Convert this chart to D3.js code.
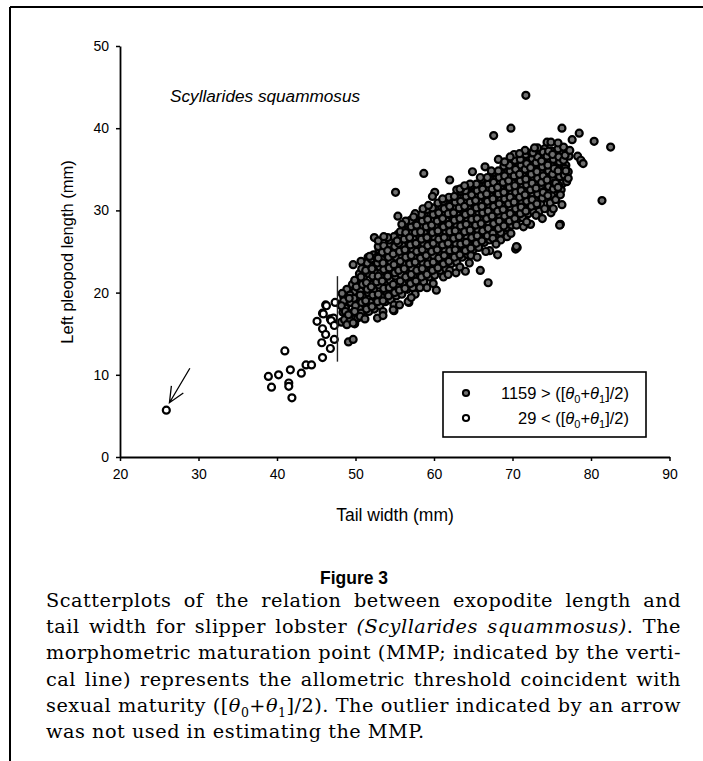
<!DOCTYPE html>
<html><head><meta charset="utf-8">
<script src="https://cdn.jsdelivr.net/npm/d3@7"></script>
<style>
html,body{margin:0;padding:0;background:#fff;}
svg{display:block;}
</style></head>
<body>
<svg id="chart" width="703" height="761"></svg>
<script>
// ---------- data ----------
const xTicks = [20, 30, 40, 50, 60, 70, 80, 90];
const yTicks = [0, 10, 20, 30, 40, 50];
const speciesName = "Scyllarides squammosus";
const xTitle = "Tail width (mm)";
const yTitle = "Left pleopod length (mm)";
const legendCounts = [1159, 29];
const legendSigns = [">", "<"];
const mmpTailWidth = 47.7;
const mmpLineSpan = [11.6, 22.0];
const arrowFrom = [28.9, 10.8];
const arrowTo = [26.3, 6.6];

// immature (below MMP) tail width / pleopod length
const immature = [
[25.9,5.7],[38.9,9.8],[39.3,8.5],[40.2,10.0],[41.0,12.9],[41.7,10.6],[41.5,9.0],[41.5,8.6],
[41.9,7.2],[43.1,10.2],[43.7,11.2],[44.4,11.2],[45.1,16.5],[45.7,13.9],[45.8,15.6],[46.2,14.9],
[45.8,17.5],[46.2,18.5],[45.8,12.1],[46.8,13.2],[46.8,16.8],[47.3,14.3],[47.3,16.2],[47.4,18.8],
[47.2,16.9],[46.9,16.6],[47.3,16.0],[45.9,17.4],[46.3,18.4]
];

// mature (above MMP) — dense core of the cloud
const matureCore = [
[48.2,16.4],[48.4,17.6],[48.1,18.5],[48.5,19.5],
[48.9,16.2],[49.0,17.0],[48.8,18.4],[49.2,19.1],[48.9,20.4],
[49.6,16.8],[49.8,17.7],[49.5,19.0],[49.9,20.1],[49.6,21.0],
[50.3,16.9],[50.5,18.1],[50.2,19.4],[50.6,20.2],[50.3,21.6],[50.5,22.3],
[51.0,17.3],[51.2,18.6],[50.9,19.6],[51.3,20.8],[51.0,21.8],[51.2,23.0],
[51.7,17.7],[51.9,18.8],[51.6,20.0],[52.0,21.0],[51.7,22.3],[51.9,23.2],[51.6,24.3],
[52.4,18.0],[52.6,19.3],[52.3,20.3],[52.7,21.6],[52.4,22.5],[52.6,23.8],[52.3,24.6],
[53.1,18.4],[53.3,19.5],[53.0,20.9],[53.4,21.8],[53.1,23.1],[53.3,24.1],[53.0,25.2],
[53.8,18.9],[54.0,20.0],[53.7,21.3],[54.1,22.2],[53.8,23.5],[54.0,24.6],[53.7,25.5],
[54.5,19.1],[54.7,20.5],[54.4,21.5],[54.8,22.8],[54.5,23.7],[54.7,25.0],[54.4,25.9],
[55.2,19.6],[55.4,20.6],[55.1,22.0],[55.5,23.0],[55.2,24.3],[55.4,25.2],[55.1,26.5],[55.4,27.1],
[55.9,19.8],[56.1,21.2],[55.8,22.2],[56.2,23.5],[55.9,24.5],[56.1,25.7],[55.8,26.6],[56.1,27.7],
[56.6,20.4],[56.8,21.4],[56.5,22.8],[56.9,23.7],[56.6,25.0],[56.8,25.9],[56.5,27.2],[56.8,27.9],
[57.3,20.6],[57.5,21.9],[57.2,22.9],[57.6,24.2],[57.3,25.2],[57.5,26.5],[57.2,27.4],[57.5,28.6],
[58.0,21.1],[58.2,22.1],[57.9,23.5],[58.3,24.4],[58.0,25.8],[58.2,26.7],[57.9,28.0],[58.2,28.8],
[58.7,21.3],[58.9,22.7],[58.6,23.6],[59.0,25.0],[58.7,25.9],[58.9,27.2],[58.6,28.1],[58.9,29.3],
[59.4,21.9],[59.6,22.9],[59.3,24.2],[59.7,25.1],[59.4,26.5],[59.6,27.4],[59.3,28.7],[59.6,29.5],
[60.1,22.1],[60.3,23.4],[60.0,24.4],[60.4,25.7],[60.1,26.6],[60.3,28.0],[60.0,28.9],[60.3,30.1],
[60.8,22.7],[61.0,23.6],[60.7,25.0],[61.1,25.9],[60.8,27.2],[61.0,28.1],[60.7,29.4],[61.0,30.3],
[61.5,22.9],[61.7,24.2],[61.4,25.1],[61.8,26.5],[61.5,27.4],[61.7,28.7],[61.4,29.6],[61.7,30.8],
[62.2,23.5],[62.4,24.4],[62.1,25.7],[62.5,26.6],[62.2,28.0],[62.4,28.9],[62.1,30.2],[62.4,31.0],
[62.9,23.7],[63.1,25.0],[62.8,25.9],[63.2,27.2],[62.9,28.1],[63.1,29.4],[62.8,30.3],[63.1,31.5],
[63.6,24.3],[63.8,25.2],[63.5,26.5],[63.9,27.4],[63.6,28.7],[63.8,29.6],[63.5,30.9],[63.8,31.6],
[64.3,24.6],[64.5,25.8],[64.2,26.7],[64.6,28.0],[64.3,28.9],[64.5,30.2],[64.2,31.0],[64.5,32.1],
[65.0,25.2],[65.2,26.1],[64.9,27.3],[65.3,28.2],[65.0,29.5],[65.2,30.3],[64.9,31.6],[65.2,32.3],
[65.7,25.5],[65.9,26.7],[65.6,27.6],[66.0,28.8],[65.7,29.7],[65.9,30.9],[65.6,31.8],[65.9,32.9],
[66.4,26.1],[66.6,26.9],[66.3,28.2],[66.7,29.0],[66.4,30.3],[66.6,31.1],[66.3,32.3],[66.6,33.1],
[67.1,26.4],[67.3,27.6],[67.0,28.4],[67.4,29.6],[67.1,30.5],[67.3,31.7],[67.0,32.5],[67.3,33.7],
[67.8,27.0],[68.0,27.8],[67.7,29.0],[68.1,29.9],[67.8,31.1],[68.0,31.9],[67.7,33.1],[68.0,33.9],
[68.5,27.3],[68.7,28.5],[68.4,29.3],[68.8,30.5],[68.5,31.3],[68.7,32.5],[68.4,33.3],[68.7,34.5],
[69.2,27.9],[69.4,28.7],[69.1,29.9],[69.5,30.7],[69.2,31.9],[69.4,32.7],[69.1,33.9],[69.4,34.7],[69.2,35.8],
[69.9,28.2],[70.1,29.4],[69.8,30.2],[70.2,31.3],[69.9,32.1],[70.1,33.3],[69.8,34.1],[70.1,35.3],[69.9,36.0],
[70.6,28.9],[70.8,29.6],[70.5,30.8],[70.9,31.6],[70.6,32.7],[70.8,33.5],[70.5,34.7],[70.8,35.4],[70.6,36.5],
[71.3,29.1],[71.5,30.3],[71.2,31.0],[71.6,32.2],[71.3,32.9],[71.5,34.1],[71.2,34.9],[71.5,36.0],[71.3,36.7],
[72.0,29.6],[72.2,30.5],[71.9,31.7],[72.3,32.4],[72.0,33.5],[72.2,34.3],[71.9,35.4],[72.2,36.2],
[72.7,29.8],[72.9,31.2],[72.6,31.9],[73.0,33.0],[72.7,33.8],[72.9,34.9],[72.6,35.6],[72.9,36.7],
[73.4,29.9],[73.6,30.8],[73.3,32.0],[73.7,32.7],[73.4,33.9],[73.6,34.6],[73.3,35.7],[73.6,36.4],[73.4,37.3],
[74.1,30.2],[74.3,31.5],[74.0,32.3],[74.4,33.4],[74.1,34.1],[74.3,35.2],[74.0,35.9],[74.3,37.0],[74.1,37.5],
[74.8,30.9],[75.0,31.8],[74.7,33.0],[75.1,33.7],[74.8,34.8],[75.0,35.5],[74.7,36.6],[75.0,37.2],
[75.5,31.3],[75.7,32.6],[75.4,33.3],[75.8,34.4],[75.5,35.1],[75.7,36.2],[75.4,36.9],
[76.2,32.5],[76.4,33.3],[76.1,34.4],[76.5,35.1],[76.2,36.2],[76.4,36.9],
[76.9,33.5],[77.1,34.7],[76.8,35.5],[77.2,36.6],[76.9,37.3]
];

// mature — second pass over the dense core (points between the first pass)
const matureCore2 = [
[48.6,16.7],[48.7,18.1],[48.5,19.0],
[49.3,16.6],[49.2,17.4],[49.4,18.8],[49.3,19.7],
[49.9,16.2],[50.0,18.4],[49.8,19.3],[50.1,20.7],[49.9,21.5],
[50.7,17.5],[50.8,18.8],[50.6,19.7],[50.9,21.0],[50.7,21.9],[50.8,22.9],
[51.4,18.0],[51.3,19.0],[51.5,20.4],[51.4,21.2],[51.3,22.7],[51.5,23.6],
[52.1,18.3],[52.2,19.7],[52.0,20.7],[52.2,22.0],[52.1,22.9],[52.0,24.1],
[52.8,18.9],[52.9,19.8],[52.7,21.3],[52.9,22.0],[52.8,23.6],[52.7,24.3],[52.9,25.6],
[53.5,19.0],[53.6,20.5],[53.4,21.4],[53.6,22.8],[53.5,23.6],[53.4,24.9],[53.6,25.7],
[54.2,19.6],[54.3,20.6],[54.1,22.0],[54.3,23.0],[54.2,24.3],[54.1,25.1],[54.3,26.4],
[54.9,18.5],[55.0,20.0],[54.8,21.0],[55.0,22.4],[54.9,23.4],[54.8,24.7],[55.0,25.6],[54.9,26.8],
[55.6,20.3],[55.7,21.4],[55.5,22.7],[55.7,23.8],[55.6,25.0],[55.5,26.0],[55.7,27.4],
[56.3,20.5],[56.4,21.9],[56.2,22.9],[56.4,24.3],[56.3,25.2],[56.2,26.5],[56.4,27.3],[56.3,28.4],
[57.0,21.1],[57.1,22.2],[56.9,23.5],[57.1,24.5],[57.0,25.8],[56.9,26.7],[57.1,28.0],[57.0,28.8],
[57.7,21.4],[57.8,22.7],[57.6,23.7],[57.8,25.0],[57.7,26.0],[57.6,27.3],[57.8,28.2],[57.7,29.3],
[58.4,21.9],[58.5,22.9],[58.3,24.2],[58.5,25.2],[58.4,26.5],[58.3,27.4],[58.5,28.7],[58.4,29.5],
[59.1,22.2],[59.2,23.5],[59.0,24.5],[59.2,25.7],[59.1,26.7],[59.0,28.0],[59.2,28.9],[59.1,30.1],
[59.8,22.7],[59.9,23.7],[59.7,25.0],[59.9,26.0],[59.8,27.3],[59.7,28.2],[59.9,29.5],[59.8,30.3],
[60.5,23.0],[60.6,24.2],[60.4,25.2],[60.6,26.5],[60.5,27.5],[60.4,28.7],[60.6,29.7],[60.5,30.9],
[61.2,23.5],[61.3,24.5],[61.1,25.8],[61.3,26.7],[61.2,28.0],[61.1,29.0],[61.3,30.2],[61.2,31.1],
[61.9,23.8],[62.0,25.1],[61.8,26.0],[62.0,27.4],[61.9,28.3],[61.8,29.6],[62.0,30.5],[61.9,31.6],
[62.6,24.3],[62.7,25.2],[62.5,26.6],[62.7,27.5],[62.6,28.8],[62.5,29.7],[62.7,31.0],[62.6,31.7],
[63.3,24.6],[63.4,25.9],[63.2,26.8],[63.4,28.1],[63.3,29.0],[63.2,30.3],[63.4,31.1],[63.3,32.3],
[64.0,25.1],[64.1,26.1],[63.9,27.4],[64.1,28.3],[64.0,29.5],[63.9,30.5],[64.1,31.7],[64.0,32.4],
[64.7,25.4],[64.8,26.7],[64.6,27.6],[64.8,28.9],[64.7,29.8],[64.6,31.0],[64.8,31.9],[64.7,33.0],
[65.4,26.0],[65.5,26.9],[65.3,28.2],[65.5,29.0],[65.4,30.3],[65.3,31.2],[65.5,32.4],[65.4,33.2],
[66.1,26.3],[66.2,27.5],[66.0,28.4],[66.2,29.7],[66.1,30.5],[66.0,31.8],[66.2,32.6],[66.1,33.8],
[66.8,26.9],[66.9,27.8],[66.7,29.0],[66.9,29.9],[66.8,31.1],[66.7,32.0],[66.9,33.2],[66.8,34.0],
[67.5,27.2],[67.6,28.4],[67.4,29.3],[67.6,30.5],[67.5,31.4],[67.4,32.6],[67.6,33.4],[67.5,34.6],
[68.2,27.8],[68.3,28.7],[68.1,29.9],[68.3,30.8],[68.2,32.0],[68.1,32.8],[68.3,34.0],[68.2,34.8],
[68.9,28.1],[69.0,29.3],[68.8,30.1],[69.0,31.4],[68.9,32.2],[68.8,33.4],[69.0,34.2],[68.9,35.4],
[69.6,28.7],[69.7,29.6],[69.5,30.8],[69.7,31.6],[69.6,32.8],[69.5,33.6],[69.7,34.8],[69.6,35.5],
[70.3,29.0],[70.4,30.2],[70.2,31.0],[70.4,32.2],[70.3,33.0],[70.2,34.2],[70.4,35.0],[70.3,36.1],[70.2,36.8],
[71.0,29.6],[71.1,30.4],[70.9,31.6],[71.1,32.4],[71.0,33.6],[70.9,34.4],[71.1,35.5],[71.0,36.2],
[71.7,29.9],[71.8,31.1],[71.6,31.9],[71.8,33.1],[71.7,33.8],[71.6,35.0],[71.8,35.7],[71.7,36.8],
[72.4,30.5],[72.5,31.3],[72.3,32.5],[72.5,33.3],[72.4,34.4],[72.3,35.2],[72.5,36.3],[72.4,37.0],
[73.1,30.8],[73.2,32.0],[73.0,32.7],[73.2,33.9],[73.1,34.7],[73.0,35.8],[73.2,36.5],
[73.8,31.5],[73.9,32.2],[73.7,33.4],[73.9,34.2],[73.8,35.3],[73.7,36.0],[73.9,37.1],
[74.5,31.8],[74.6,32.9],[74.4,33.7],[74.6,34.8],[74.5,35.5],[74.4,36.6],[74.6,37.2],
[75.2,32.6],[75.3,33.3],[75.1,34.4],[75.3,35.1],[75.2,36.2],[75.1,36.8],
[75.9,33.0],[76.0,34.1],[75.8,34.8],[76.0,35.9],[75.9,36.5],[75.8,37.5],
[76.6,34.3],[76.7,35.0],[76.5,36.1],[76.7,36.7]
];

// mature — scattered edge points and outliers
const matureScatter = [
[71.7,44.0],[67.6,39.1],[69.8,40.0],[76.3,40.0],[78.5,39.4],[80.4,38.4],[82.5,37.7],[77.6,38.6],
[81.4,31.2],[58.7,34.5],[62.0,33.7],[55.1,32.2],[55.4,29.3],[76.1,28.3],[74.9,29.7],[66.9,21.2],
[65.9,22.7],[70.4,25.3],[70.6,25.5],[68.1,24.6],[64.7,24.5],[64.0,22.6],[62.0,22.7],[60.3,20.3],
[59.1,20.6],[58.2,20.6],[56.8,18.8],[54.9,17.8],[52.8,16.9],[52.4,26.7],[54.1,26.7],[52.9,26.3],
[49.7,23.4],[50.7,23.8],[51.8,24.4],[52.9,24.2],[48.3,19.9],[78.8,35.9],[78.3,36.6],[78.7,36.1],
[79.0,35.7],[77.1,33.9],[76.3,30.7],[76.0,28.2],[73.0,29.4],[72.3,28.3],[71.4,28.0],[70.5,28.2],
[68.5,26.4],[67.5,26.6],[67.1,25.1],[70.5,25.6],[64.9,34.7],[66.5,35.3],[68.2,36.2],[69.7,36.5],
[71.6,37.3],[72.6,37.0],[73.2,37.6],[74.4,38.3],[74.9,38.3],[76.5,37.7],[77.3,37.3],[76.7,35.1],
[76.8,34.8],[75.5,33.3],[75.8,32.8],[76.1,31.9],[62.9,32.5],[63.4,32.6],[60.1,32.2],[59.8,31.7],
[63.3,32.6],[64.6,33.2],[55.3,26.3],[49.2,19.3],[48.2,18.4],[48.7,17.7],[49.1,17.3],[49.9,17.7],
[50.6,17.1],[51.2,16.8],[48.9,16.1],[49.7,16.3],[49.1,14.0],[49.7,14.3],[56.7,18.9],[54.8,17.9],
[53.5,17.7],[55.6,18.5],[57.6,19.8],[61.2,21.9],[62.8,22.4],[63.3,23.1],[65.5,24.3],[66.6,25.0],
[69.3,26.8],[71.8,28.6],[56.4,28.7],[57.6,29.6],[58.6,30.2],
[53.5,17.2],[57.1,19.4],[59.9,21.1],[61.8,22.2],[64.5,23.6],[67.9,25.9],[69.8,27.2],[73.8,29.0],
[75.2,30.2],[53.6,26.8],[55.9,28.3],[57.4,29.2],[59.3,30.6],[61.1,31.4],[63.9,33.0],[65.9,34.0],
[67.3,34.8],[69.0,35.9],[70.9,36.9],[72.8,37.6],[75.8,38.2]
];

// ---------- layout ----------
const svg = d3.select("#chart");
const x = d3.scaleLinear().domain([20, 90]).range([120, 669.5]);
const y = d3.scaleLinear().domain([0, 50]).range([457, 46]);
const sans = "'Liberation Sans', Arial, Helvetica, sans-serif";
const serif = "'DejaVu Serif', serif";

// frame
svg.append("line").attr("x1", 10).attr("x2", 703).attr("y1", 7).attr("y2", 7)
  .attr("stroke", "#000").attr("stroke-width", 2);
svg.append("line").attr("x1", 10).attr("x2", 10).attr("y1", 7).attr("y2", 761)
  .attr("stroke", "#000").attr("stroke-width", 2);

// axes
const gx = svg.append("g").attr("transform", `translate(0,${y(0)})`)
  .call(d3.axisBottom(x).tickValues(xTicks).tickSize(4).tickSizeOuter(0).tickPadding(8));
const gy = svg.append("g").attr("transform", `translate(${x(20)},0)`)
  .call(d3.axisLeft(y).tickValues(yTicks).tickSize(4).tickSizeOuter(0).tickPadding(7));
[gx, gy].forEach(g => {
  g.select(".domain").attr("stroke-width", 1.8);
  g.selectAll(".tick line").attr("stroke-width", 1.5);
  g.selectAll(".tick text").attr("font-family", sans).attr("font-size", 14).attr("fill", "#000");
});

// axis titles
svg.append("text").attr("x", 395).attr("y", 521).attr("text-anchor", "middle")
  .attr("font-family", sans).attr("font-size", 17.5).text(xTitle);
svg.append("text").attr("transform", "translate(73,252) rotate(-90)").attr("text-anchor", "middle")
  .attr("font-family", sans).attr("font-size", 16.5).text(yTitle);

// species label
svg.append("text").attr("x", 170).attr("y", 102).attr("font-family", sans)
  .attr("font-style", "italic").attr("font-size", 17.2).text(speciesName);

// points
const R = 3.5;
svg.append("g").selectAll("circle").data(matureCore.concat(matureCore2, matureScatter)).join("circle")
  .attr("cx", d => x(d[0])).attr("cy", d => y(d[1])).attr("r", R)
  .attr("fill", "#707070").attr("stroke", "#000").attr("stroke-width", 2.2);
svg.append("g").selectAll("circle").data(immature).join("circle")
  .attr("cx", d => x(d[0])).attr("cy", d => y(d[1])).attr("r", R)
  .attr("fill", "#fff").attr("stroke", "#000").attr("stroke-width", 2.2);

// MMP vertical line
svg.append("line").attr("x1", x(mmpTailWidth)).attr("x2", x(mmpTailWidth))
  .attr("y1", y(mmpLineSpan[0])).attr("y2", y(mmpLineSpan[1]))
  .attr("stroke", "#222").attr("stroke-width", 1.4);

// arrow
(function () {
  const x1 = x(arrowFrom[0]), y1 = y(arrowFrom[1]), x2 = x(arrowTo[0]), y2 = y(arrowTo[1]);
  const ang = Math.atan2(y2 - y1, x2 - x1), L = 17, a = 0.42;
  const p = `M${x1},${y1}L${x2},${y2}M${x2 - L * Math.cos(ang - a)},${y2 - L * Math.sin(ang - a)}L${x2},${y2}L${x2 - L * Math.cos(ang + a)},${y2 - L * Math.sin(ang + a)}`;
  svg.append("path").attr("d", p).attr("fill", "none").attr("stroke", "#000").attr("stroke-width", 1.3);
})();

// legend
const lg = svg.append("g");
lg.append("rect").attr("x", 443).attr("y", 372).attr("width", 203).attr("height", 65)
  .attr("fill", "#fff").attr("stroke", "#000").attr("stroke-width", 1.6);
legendCounts.forEach((c, i) => {
  const cy = 393 + i * 25;
  lg.append("circle").attr("cx", 466).attr("cy", cy).attr("r", 3.1)
    .attr("fill", i === 0 ? "#707070" : "#fff").attr("stroke", "#000").attr("stroke-width", 2);
  const t = lg.append("text").attr("x", 629).attr("y", cy + 6).attr("text-anchor", "end")
    .attr("font-family", sans).attr("font-size", 16.5);
  t.append("tspan").text(`${c} ${legendSigns[i]} ([`);
  t.append("tspan").attr("font-style", "italic").text("θ");
  t.append("tspan").attr("font-size", 11).attr("dy", 4).text("0");
  t.append("tspan").attr("dy", -4).text("+");
  t.append("tspan").attr("font-style", "italic").text("θ");
  t.append("tspan").attr("font-size", 11).attr("dy", 4).text("1");
  t.append("tspan").attr("dy", -4).text("]/2)");
});

// figure caption
svg.append("text").attr("x", 354).attr("y", 584).attr("text-anchor", "middle")
  .attr("font-family", sans).attr("font-weight", "bold").attr("font-size", 17.5).text("Figure 3");

const captionLines = [
  [["Scatterplots of the relation between exopodite length and", ""]],
  [["tail width for slipper lobster ", ""], ["(Scyllarides squammosus)", "i"], [". The", ""]],
  [["morphometric maturation point (MMP; indicated by the verti-", ""]],
  [["cal line) represents the allometric threshold coincident with", ""]],
  [["sexual maturity ([", ""], ["θ", "i"], ["0", "sub"], ["+", "back"], ["θ", "i"], ["1", "sub"], ["]/2). The outlier indicated by an arrow", "back"]],
  [["was not used in estimating the MMP.", ""]]
];
const capLeft = 46, capRight = 681, capTop = 607, capLH = 26.2;
captionLines.forEach((segs, i) => {
  const t = svg.append("text").attr("x", capLeft).attr("y", capTop + i * capLH)
    .attr("font-family", serif).attr("font-size", 19.3).attr("letter-spacing", 0.5).attr("fill", "#000");
  segs.forEach(([s, k]) => {
    const ts = t.append("tspan").text(s);
    if (k === "i") ts.attr("font-style", "italic");
    if (k === "sub") ts.attr("font-size", 12.5).attr("dy", 5);
    if (k === "back") ts.attr("dy", -5);
  });
  if (i < captionLines.length - 1) {
    const full = segs.map(d => d[0]).join("");
    const spaces = (full.match(/ /g) || []).length;
    const w = t.node().getComputedTextLength();
    if (spaces > 0) t.attr("word-spacing", (capRight - capLeft - w) / spaces);
  }
});
</script>
</body></html>
